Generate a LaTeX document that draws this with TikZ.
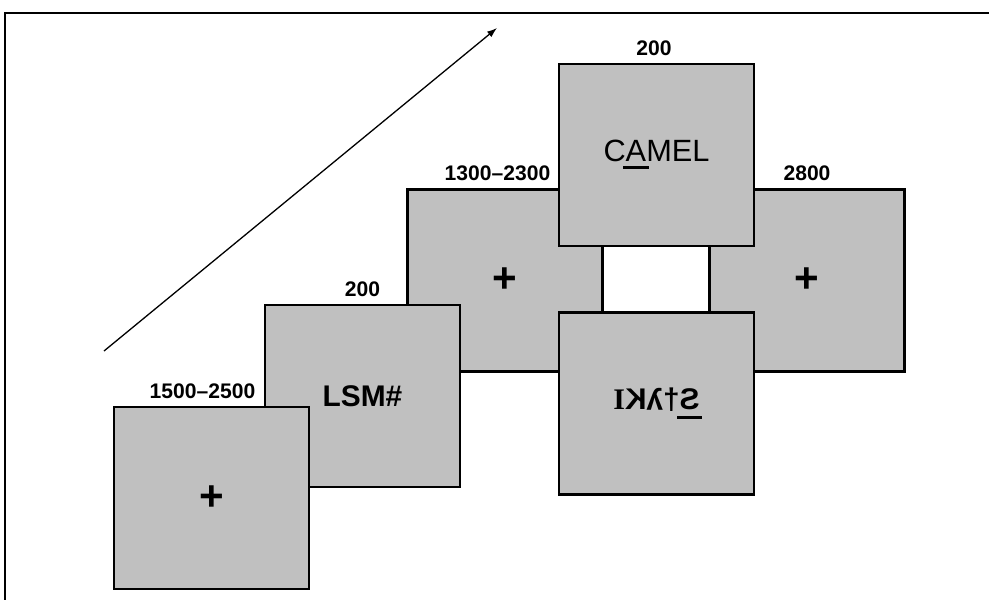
\documentclass[tikz,border=0pt]{standalone}
\usepackage{fontspec}
\setmainfont{Liberation Sans}
\newfontfamily\serifglyph{Liberation Serif}
\usetikzlibrary{arrows.meta,positioning}
\definecolor{screengray}{RGB}{192,192,192}
\newsavebox\ulbox
\newcommand\ulbar[2]{\sbox\ulbox{#2}\makebox[0pt][l]{\kern-0.5mm\rule[-#1]{\dimexpr\wd\ulbox+1mm\relax}{0.6mm}}\usebox\ulbox}

\begin{document}
\begin{tikzpicture}[x=0.2mm,y=-0.2mm,
  scr/.style={draw,line width=0.5mm,fill=screengray,minimum width=3.9cm,minimum height=3.64cm,inner sep=0pt},
  lbl/.style={font=\fontsize{12pt}{14pt}\selectfont\bfseries,inner sep=0pt},
  fix/.style={font=\fontsize{24pt}{24pt}\selectfont\bfseries},
  arr/.style={-{Latex[length=2mm,width=1.4mm]},line width=0.26mm}]
\useasboundingbox (0,0) rectangle (989,600);
\draw[line width=0.4mm] (989,13)--(5,13)--(5,600);
\coordinate (t0) at (104,351);
\coordinate (t1) at (497,28);
\draw[arr] (t0)--(t1);
% screens, back to front
\node[scr,fix] (b6) at (807,280.5) {+};
\node[scr,fix] (b3) at (505,280.5) {+};
\node[scr,font=\fontsize{17.5pt}{20pt}\selectfont] (b4) at (656.5,155) {C\ulbar{1.5mm}{A}MEL};
\node[scr,font=\fontsize{17pt}{20pt}\selectfont\bfseries] (b5) at (656.5,403.5)
  {{\serifglyph I}\reflectbox{K}\raisebox{0.19em}{\rotatebox[origin=c]{180}{y}}†\ulbar{1.9mm}{\reflectbox{S}}};
\node[scr,font=\fontsize{17pt}{20pt}\selectfont\bfseries] (b2) at (362.5,396) {LSM\#};
\node[scr,fix] (b1) at (211.5,498) {+};
% durations
\foreach \name/\dx/\lab in {b1/-9/1500–2500,b2/0/200,b3/-7.5/1300–2300,b4/-2.5/200,b6/0/2800}
  \node[lbl,above=1.4mm of \name,xshift=\dx*0.2mm] (d\name) {\lab};
\end{tikzpicture}
\end{document}
